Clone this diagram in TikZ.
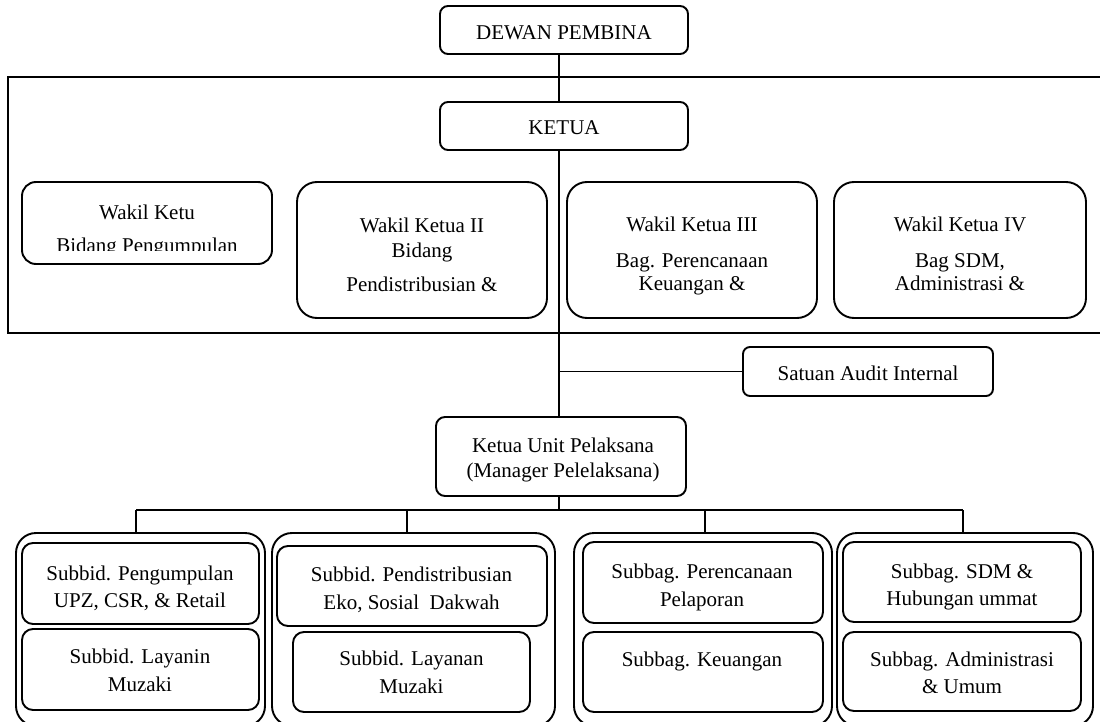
\documentclass[tikz,border=0pt]{standalone}
\usepackage{fontspec}
\setmainfont{Liberation Serif}
\begin{document}
\begin{tikzpicture}[x=1pt,y=-1pt,
  box/.style={draw, line width=1.9pt, rounded corners=#1, inner sep=0pt, outer sep=0pt},
  box/.default=8pt,
  conn/.style={line width=1.1pt},
  txt/.style={anchor=base, inner sep=0pt, outer sep=0pt, font=\fontsize{21}{25}\selectfont}]
\useasboundingbox (0,0) rectangle (1100,722);
\clip (0,0) rectangle (1100,722);
% frame
\draw[line width=1.9pt] (8,77) rectangle (1115,333);
% boxes
\node[box=8pt, minimum width=248pt, minimum height=48pt] (dewan) at (564,30) {};
\node[box=8pt, minimum width=248pt, minimum height=48pt] (ketua) at (564,126) {};
\node[box=14pt, minimum width=250pt, minimum height=82pt] (wk1) at (147,223) {};
\node[box=20pt, minimum width=250pt, minimum height=136pt] (wk2) at (422,250) {};
\node[box=20pt, minimum width=250pt, minimum height=136pt] (wk3) at (692,250) {};
\node[box=20pt, minimum width=252pt, minimum height=136pt] (wk4) at (960,250) {};
\node[box=7pt, minimum width=250pt, minimum height=49pt] (sai) at (868,371.5) {};
\node[box=9pt, minimum width=250pt, minimum height=79pt] (kunit) at (561,456.5) {};
% groups
\node[box=20pt, minimum width=249pt, minimum height=193pt] (g1) at (140.5,629.5) {};
\node[box=11pt, minimum width=237pt, minimum height=81pt] (g1a) at (140.5,583.5) {};
\node[box=11pt, minimum width=237pt, minimum height=81pt] (g1b) at (140.5,669.5) {};
\node[box=20pt, minimum width=283pt, minimum height=193pt] (g2) at (413.5,629.5) {};
\node[box=11pt, minimum width=270pt, minimum height=80pt] (g2a) at (412,586) {};
\node[box=11pt, minimum width=237pt, minimum height=80pt] (g2b) at (411.5,672) {};
\node[box=20pt, minimum width=258pt, minimum height=193pt] (g3) at (703,629.5) {};
\node[box=11pt, minimum width=240pt, minimum height=81pt] (g3a) at (703,582.5) {};
\node[box=11pt, minimum width=240pt, minimum height=80pt] (g3b) at (703,672) {};
\node[box=20pt, minimum width=256pt, minimum height=193pt] (g4) at (965,629.5) {};
\node[box=11pt, minimum width=238pt, minimum height=80pt] (g4a) at (962,582) {};
\node[box=11pt, minimum width=238pt, minimum height=79pt] (g4b) at (962,671.5) {};
% connectors
\coordinate (sp) at (559,0);
\coordinate (d1) at (136,510);
\coordinate (d2) at (407,510);
\coordinate (d3) at (705,510);
\coordinate (d4) at (963,510);
\draw[conn] (dewan.south -| sp) -- (ketua.north -| sp);
\draw[conn] (ketua.south -| sp) -- (kunit.north -| sp);
\draw[conn] (sai.west -| sp) -- (sai.west);
\draw[conn] (kunit.south -| sp) -- (sp |- d1);
\draw[conn] (d1) -- (d4);
\draw[conn] (d1) -- (d1 |- g1.north);
\draw[conn] (d2) -- (d2 |- g2.north);
\draw[conn] (d3) -- (d3 |- g3.north);
\draw[conn] (d4) -- (d4 |- g4.north);
% texts
\node[txt] (t-dewan) at (564,39.5) {DEWAN PEMBINA};
\node[txt] (t-ketua) at (564,135) {KETUA};
\node[txt] (t-wk1a) at (147,219) {Wakil Ketu};
\begin{scope}
\clip (22,182) rectangle (272,250.5);
\node[txt] (t-wk1b) at (147,252.5) {Bidang Pengumpulan};
\end{scope}
\node[txt] (t-wk2a) at (422,233) {Wakil Ketua II};
\node[txt] (t-wk2b) at (422,258) {Bidang};
\node[txt] (t-wk2c) at (422,291) {Pendistribusian \&};
\node[txt] (t-wk3a) at (692,232) {Wakil Ketua III};
\node[txt] (t-wk3b) at (692,267) {Bag. Perencanaan};
\node[txt] (t-wk3c) at (692,290) {Keuangan \&};
\node[txt] (t-wk4a) at (960,232) {Wakil Ketua IV};
\node[txt] (t-wk4b) at (960,267) {Bag SDM,};
\node[txt] (t-wk4c) at (960,290) {Administrasi \&};
\node[txt] (t-sai) at (868,380.5) {Satuan Audit Internal};
\node[txt] (t-ku1) at (563,452.5) {Ketua Unit Pelaksana};
\node[txt] (t-ku2) at (563,477) {(Manager Pelelaksana)};
\node[txt] (t-g1a1) at (140,580) {Subbid. Pengumpulan};
\node[txt] (t-g1a2) at (140,607) {UPZ, CSR, \& Retail};
\node[txt] (t-g1b1) at (140,663) {Subbid. Layanin};
\node[txt] (t-g1b2) at (140,691) {Muzaki};
\node[txt] (t-g2a1) at (411.5,581.5) {Subbid. Pendistribusian};
\node[txt] (t-g2a2) at (411.5,609.5) {Eko, Sosial\ \ Dakwah};
\node[txt] (t-g2b1) at (411.5,665) {Subbid. Layanan};
\node[txt] (t-g2b2) at (411.5,693) {Muzaki};
\node[txt] (t-g3a1) at (702,578) {Subbag. Perencanaan};
\node[txt] (t-g3a2) at (702,606) {Pelaporan};
\node[txt] (t-g3b1) at (702,666.5) {Subbag. Keuangan};
\node[txt] (t-g4a1) at (962,578) {Subbag. SDM \&};
\node[txt] (t-g4a2) at (962,605) {Hubungan ummat};
\node[txt] (t-g4b1) at (962,666.5) {Subbag. Administrasi};
\node[txt] (t-g4b2) at (962,693) {\& Umum};
\end{tikzpicture}
\end{document}
